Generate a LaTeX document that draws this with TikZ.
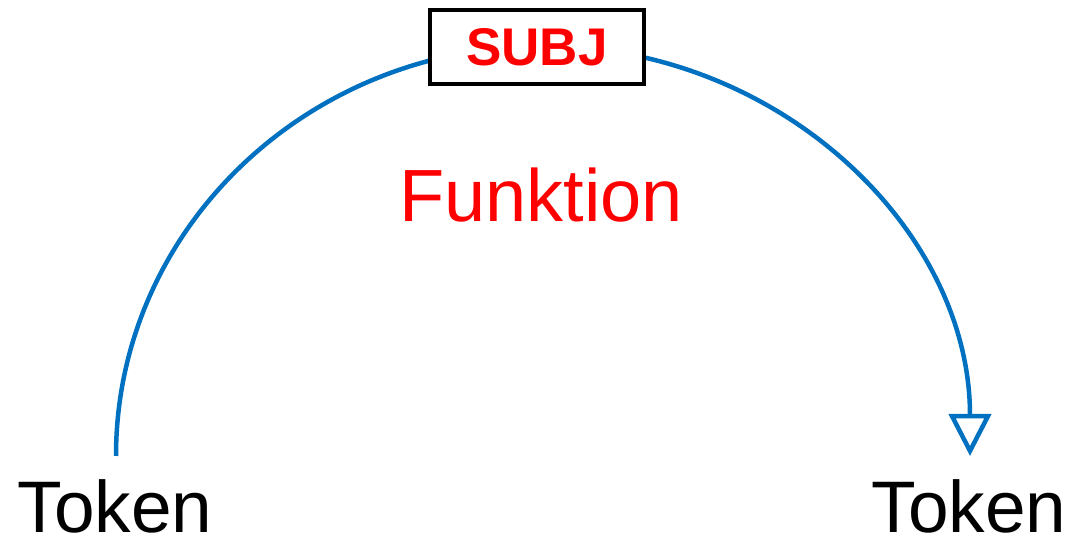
\documentclass[tikz,border=0pt]{standalone}
\usepackage{fontspec}
\setmainfont{Liberation Sans}
\usetikzlibrary{arrows.meta}
\definecolor{arcblue}{RGB}{0,112,192}
\tikzset{
  token/.style={anchor=base, inner sep=0pt, font=\fontsize{73}{86}\selectfont, text=black},
  func/.style={anchor=base, inner sep=0pt, font=\fontsize{74}{88}\selectfont, text=red},
  relbox/.style={draw=black, line width=4.5pt, fill=white, minimum width=214pt, minimum height=74pt, inner sep=0pt, font=\fontsize{53}{62}\bfseries\selectfont, text=red},
  arcline/.style={draw=arcblue, line width=4.5pt, -{Triangle[open, length=42pt, width=42pt, line width=4.5pt]}}
}
\begin{document}
\begin{tikzpicture}[x=1pt,y=1pt]
\useasboundingbox (0,0) rectangle (1077,540);
\node[token] (t1) at (115,7) {Token};
\node[token] (t2) at (969,7) {Token};
\coordinate (s) at (116,84);
\draw[arcline] (s) arc[start angle=180, end angle=0, x radius=427, y radius=410];
\node[relbox] (r) at (537,493) {SUBJ};
\node[func] (f) at (541,318) {Funktion};
\end{tikzpicture}
\end{document}
